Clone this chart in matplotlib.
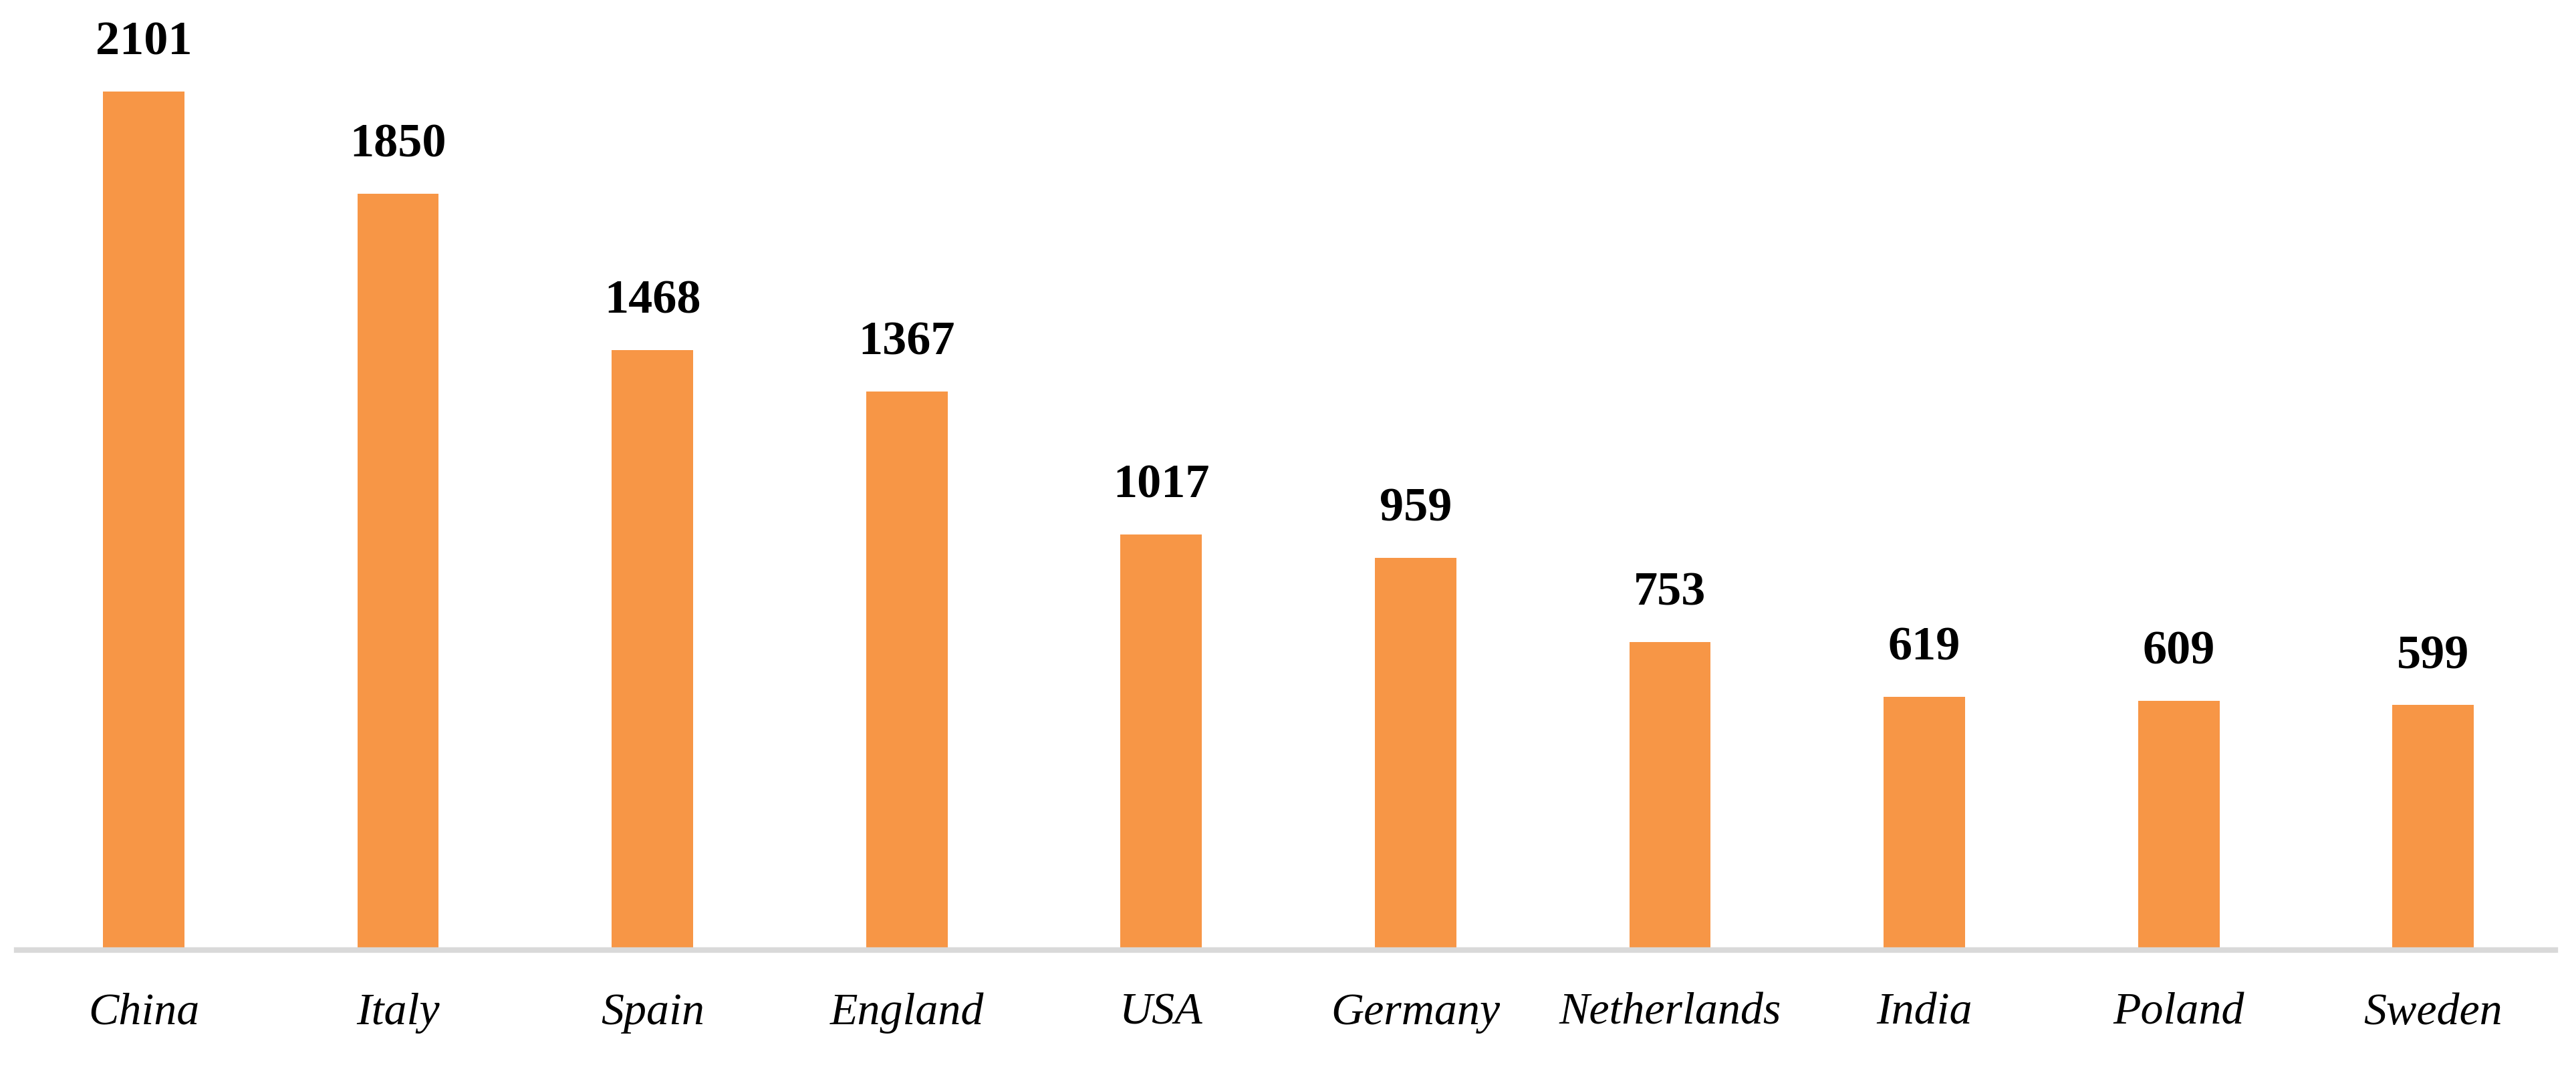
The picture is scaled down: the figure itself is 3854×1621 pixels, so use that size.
import matplotlib.pyplot as plt
import numpy as np


countries = ["China", "Italy", "Spain", "England", "USA",
             "Germany", "Netherlands", "India", "Poland", "Sweden"]
counts = [2101, 1850, 1468, 1367, 1017, 959, 753, 619, 609, 599]


fig = plt.figure(figsize=(38.55, 16.21), dpi=100)
ax = fig.add_axes([0.0064, 0.123, 0.9853, 0.83])

x = np.arange(len(countries))
bars = ax.bar(x, counts, width=0.32, color="#F79646")

# value labels above each bar
for rect, val in zip(bars, counts):
    ax.annotate(str(val), (rect.get_x() + rect.get_width() / 2, rect.get_height()),
                xytext=(0, 29), textcoords="offset points", ha="center", va="bottom",
                fontsize=52, fontweight="bold", family="Liberation Serif")

ax.set_xlim(-0.5, 9.48)
ax.set_ylim(0, 2200)
ax.set_xticks(x)
ax.set_xticklabels(countries, fontsize=49, fontstyle="italic", family="Liberation Serif")
ax.tick_params(axis="x", length=0, pad=46)
ax.set_yticks([])

for s in ["top", "right", "left"]:
    ax.spines[s].set_visible(False)
ax.spines["bottom"].set_color("#D9D9D9")
ax.spines["bottom"].set_linewidth(6)

fig.savefig("out.png", dpi=100)
